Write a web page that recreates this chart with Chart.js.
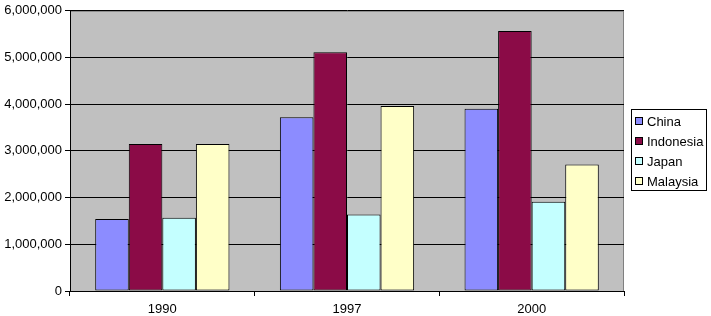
<!DOCTYPE html>
<html>
<head>
<meta charset="utf-8">
<script src="https://cdn.jsdelivr.net/npm/chart.js@4"></script>
<style>
  body { margin: 0; background: #fff; }
  #wrap { width: 711px; height: 316px; }
</style>
</head>
<body>
<div id="wrap"><canvas id="myChart" width="711" height="316"></canvas></div>
<script>
const years = ['1990', '1997', '2000'];
const countries = ['China', 'Indonesia', 'Japan', 'Malaysia'];
const china = [1540000, 3720000, 3900000];
const indonesia = [3150000, 5110000, 5570000];
const japan = [1570000, 1640000, 1910000];
const malaysia = [3150000, 3960000, 2710000];
const colors = ['#8C8CFF', '#8B0B47', '#C4FFFF', '#FFFFC8'];

const series = [china, indonesia, japan, malaysia];
const FONT = '"Liberation Sans", Arial, sans-serif';

// plot area background + grey frame
const plotBg = {
    id: 'plotBg',
    beforeDraw(chart) {
        const a = chart.chartArea;
        const c = chart.ctx;
        c.save();
        c.fillStyle = '#C0C0C0';
        c.fillRect(a.left, a.top, a.right - a.left, a.bottom - a.top);
        c.strokeStyle = '#808080';
        c.lineWidth = 1;
        c.strokeRect(a.left + 0.5, a.top + 0.5, a.right - a.left - 1, a.bottom - a.top);
        c.restore();
    }
};

// excel style boxed legend
const boxLegend = {
    id: 'boxLegend',
    afterDraw(chart) {
        const c = chart.ctx;
        c.save();
        c.fillStyle = '#fff';
        c.fillRect(631, 109, 75, 82);
        c.strokeStyle = '#000';
        c.lineWidth = 1;
        c.strokeRect(631.5, 109.5, 75, 81);
        c.font = '13px ' + FONT;
        c.textBaseline = 'middle';
        chart.data.datasets.forEach((ds, i) => {
            const y = 121 + i * 20;
            c.fillStyle = ds.backgroundColor;
            c.fillRect(636, y - 3, 6, 6);
            c.strokeStyle = '#000';
            c.strokeRect(635.5, y - 3.5, 7, 7);
            c.fillStyle = '#000';
            c.fillText(ds.label, 647, y + 1);
        });
        c.restore();
    }
};

const data = {
    labels: years,
    datasets: countries.map((name, i) => ({
        label: name,
        data: series[i],
        backgroundColor: colors[i],
        borderColor: '#000',
        borderWidth: 1,
        borderSkipped: false,
        categoryPercentage: 0.727,
        barPercentage: 1.0
    }))
};

const ctx = document.getElementById('myChart').getContext('2d');
var myChart = new Chart(ctx, {
    type: 'bar',
    data: data,
    options: {
        responsive: false,
        animation: false,
        layout: { padding: { top: 10, right: 87, left: 0, bottom: 0 } },
        plugins: { legend: { display: false }, tooltip: { enabled: false } },
        scales: {
            x: {
                grid: { drawOnChartArea: false, drawTicks: true, tickLength: 5, color: '#000', offset: true },
                border: { color: '#000' },
                ticks: { color: '#000', padding: 6, font: { family: FONT, size: 13 } },
                afterFit(s) { s.height = 25; }
            },
            y: {
                min: 0,
                max: 6000000,
                grid: { color: '#000', tickLength: 5 },
                border: { color: '#000' },
                ticks: {
                    stepSize: 1000000,
                    color: '#000',
                    padding: 3,
                    font: { family: FONT, size: 13 },
                    callback: v => v.toLocaleString('en-US')
                },
                afterFit(s) { s.width = 70; }
            }
        }
    },
    plugins: [plotBg, boxLegend]
});
</script>
</body>
</html>
